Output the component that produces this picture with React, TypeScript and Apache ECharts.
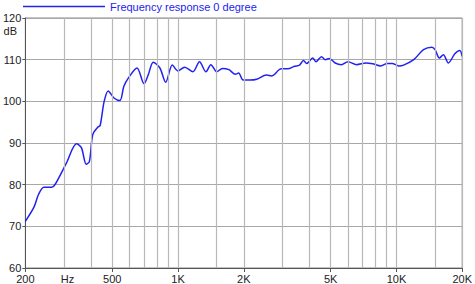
import React, { useEffect, useRef } from "react";
import * as echarts from "echarts";

const freqs = [200, 219, 230, 243, 264, 274, 309, 343, 361, 380, 393, 407, 429, 440, 459, 479, 509, 542, 565, 594, 649, 699, 731, 770, 826, 878, 942, 998, 1072, 1170, 1254, 1342, 1414, 1504, 1596, 1710, 1830, 1895, 1984, 2138, 2292, 2540, 2680, 2968, 3180, 3414, 3597, 3752, 3883, 4136, 4285, 4540, 4730, 4920, 5240, 5600, 6000, 6560, 7260, 7780, 8480, 9080, 9560, 10240, 10780, 12000, 13300, 14520, 15020, 15720, 16400, 17280, 18500, 19480, 20000];
const dbValues = [71.2, 74.6, 77.7, 79.4, 79.4, 80.1, 85.3, 89.8, 88.9, 84.9, 85.6, 92.0, 93.8, 94.2, 100.0, 102.5, 100.8, 100.2, 103.6, 105.7, 108.0, 104.2, 106.4, 109.4, 108.0, 104.6, 108.7, 107.3, 108.2, 107.1, 109.5, 107.1, 108.8, 107.1, 107.9, 107.6, 106.5, 106.8, 105.1, 105.1, 105.3, 106.3, 106.1, 107.8, 107.8, 108.4, 108.7, 109.8, 109.1, 110.4, 109.5, 110.7, 110.0, 110.3, 109.2, 108.8, 109.5, 108.8, 109.2, 109.0, 108.5, 109.1, 109.1, 108.5, 108.7, 110.0, 112.4, 113.0, 112.4, 110.4, 111.2, 109.2, 111.4, 112.2, 110.8];

const gridFreqs = [300, 400, 500, 600, 700, 800, 900, 1000, 1500, 2000, 3000, 4000, 5000, 6000, 7000, 8000, 9000, 10000, 15000, 20000];
const tickFreqs = [200, 500, 1000, 2000, 5000, 10000, 20000];
const labelFreqs = [200, 312, 500, 1000, 2000, 5000, 10000, 20000];
const labelTexts = ["200", "Hz", "500", "1K", "2K", "5K", "10K", "20K"];

const seriesName = "Frequency response 0 degree";
const BLUE = "#2222f0";

export default function App() {
  const ref = useRef<HTMLDivElement>(null);
  useEffect(() => {
    const chart = echarts.init(ref.current!, null, { renderer: "svg" });
    chart.setOption({
      animation: false,
      textStyle: { fontFamily: "Liberation Sans, Arial, sans-serif" },
      legend: {
        left: 18,
        top: -4,
        icon: "rect",
        itemWidth: 82,
        itemHeight: 1.5,
        itemGap: 4,
        textStyle: { color: BLUE, fontSize: 11, fontFamily: "Liberation Sans, Arial, sans-serif" },
        data: [seriesName],
      },
      grid: { left: 21, right: 9, top: 18, bottom: 15, show: true, borderColor: "#888", borderWidth: 1 },
      xAxis: {
        type: "log",
        min: 200,
        max: 20000,
        axisLine: { show: true, lineStyle: { color: "#555" } },
        axisTick: { show: true, customValues: tickFreqs, length: 4, lineStyle: { color: "#555" } },
        axisLabel: {
          customValues: labelFreqs,
          fontSize: 11,
          color: "#222",
          margin: 5,
          formatter: (v: number) => {
            const i = labelFreqs.findIndex((f) => Math.abs(f - v) / f < 0.01);
            return i >= 0 ? labelTexts[i] : "";
          },
        },
        splitLine: { show: false },
        minorTick: { show: false },
      },
      yAxis: {
        type: "value",
        min: 60,
        max: 120,
        interval: 10,
        axisLine: { show: true, lineStyle: { color: "#555" } },
        axisTick: { show: true, length: 3, lineStyle: { color: "#555" } },
        axisLabel: { fontSize: 11, color: "#222", margin: 4 },
        splitLine: { show: true, lineStyle: { color: "#a8a8a8", width: 1.2 } },
      },
      graphic: [
        {
          type: "text",
          right: 475 - 17,
          top: 25,
          style: { text: "dB", fontSize: 11, fill: "#222", fontFamily: "Liberation Sans, Arial, sans-serif", align: "right" },
        },
      ],
      series: [
        {
          name: seriesName,
          type: "line",
          data: freqs.map((f, i) => [f, dbValues[i]]),
          showSymbol: false,
          symbol: "none",
          smooth: 0.3,
          lineStyle: { color: BLUE, width: 1.5 },
          itemStyle: { color: BLUE },
          markLine: {
            silent: true,
            symbol: "none",
            label: { show: false },
            lineStyle: { color: "#b8b8b8", type: "solid", width: 1.2 },
            data: gridFreqs.map((f) => ({ xAxis: f })),
          },
          z: 3,
        },
      ],
    });
    return () => chart.dispose();
  }, []);
  return <div ref={ref} style={{ width: 475, height: 284, position: "absolute", left: 0, top: 0 }} />;
}
